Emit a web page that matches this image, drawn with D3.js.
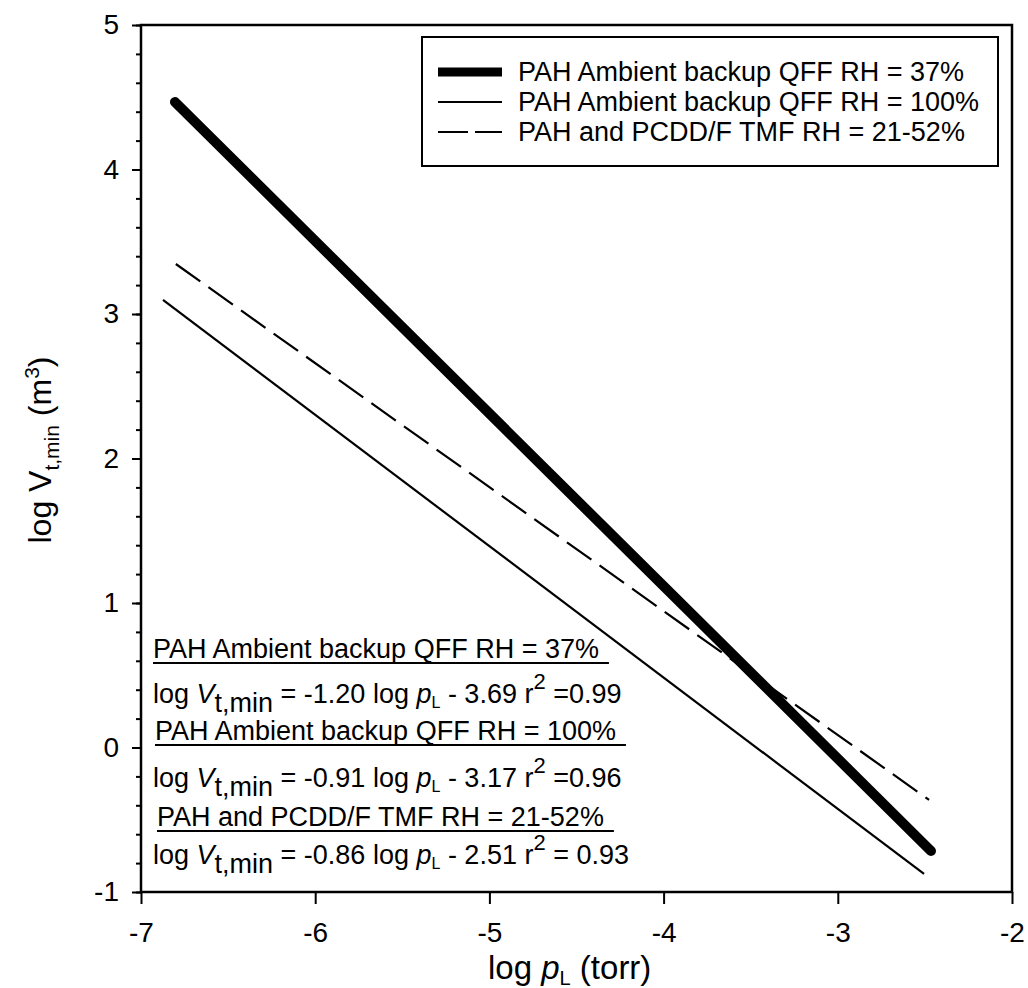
<!DOCTYPE html>
<html>
<head>
<meta charset="utf-8">
<script src="https://cdn.jsdelivr.net/npm/d3@7"></script>
<style>
  body { margin: 0; background: #fff; }
  text { font-family: "Liberation Sans", Arial, Helvetica, sans-serif; fill: #000; }
</style>
</head>
<body>
<script>
// Regression lines: [log pL, log Vt,min] end points
var qff37 = [[-6.805, 4.467], [-2.465, -0.716]];
var qff100 = [[-6.874, 3.097], [-2.505, -0.875]];
var tmf = [[-6.80, 3.346], [-2.476, -0.363]];

var legendLabels = ["PAH Ambient backup QFF RH = 37%", "PAH Ambient backup QFF RH = 100%", "PAH and PCDD/F TMF RH = 21-52%"];
var eqTitles = legendLabels;
var eqSlopes = ["-1.20", "-0.91", "-0.86"];
var eqIntercepts = ["3.69", "3.17", "2.51"];
var eqR2 = ["=0.99", "=0.96", "= 0.93"];

var xTicks = [-7, -6, -5, -4, -3, -2];
var yTicks = [-1, 0, 1, 2, 3, 4, 5];
var yMinor = d3.range(-1, 5.001, 0.2);

var svgWidth = 1028, svgHeight = 988;
var margin = { top: 25, right: 16, bottom: 96, left: 141 };
var width = svgWidth - margin.left - margin.right;
var height = svgHeight - margin.top - margin.bottom;

var svg = d3.select("body").append("svg")
  .attr("width", svgWidth)
  .attr("height", svgHeight);

var chartGroup = svg.append("g")
  .attr("transform", `translate(${margin.left}, ${margin.top})`);

var x = d3.scaleLinear().domain([-7, -2]).range([0, width]);
var y = d3.scaleLinear().domain([-1, 5]).range([height, 0]);

// plain hyphen instead of unicode minus, as in the figure
var fmt = d => String(d);

// minor y ticks
chartGroup.append("g")
  .call(d3.axisLeft(y).tickValues(yMinor).tickSize(5).tickFormat(""))
  .call(g => g.select(".domain").remove())
  .selectAll("line").attr("stroke-width", 2);

// major y ticks
var yAxis = chartGroup.append("g")
  .call(d3.axisLeft(y).tickValues(yTicks).tickSize(9).tickPadding(13).tickFormat(fmt))
  .call(g => g.select(".domain").remove());
yAxis.selectAll("line").attr("stroke-width", 2);
yAxis.selectAll("text").style("font-size", "28px").style("font-family", null);

// x ticks
var xAxis = chartGroup.append("g")
  .attr("transform", `translate(0,${height})`)
  .call(d3.axisBottom(x).tickValues(xTicks).tickSize(12).tickPadding(18).tickFormat(fmt))
  .call(g => g.select(".domain").remove());
xAxis.selectAll("line").attr("stroke-width", 2);
xAxis.selectAll("text").style("font-size", "28px").style("font-family", null);

// frame
chartGroup.append("rect")
  .attr("width", width)
  .attr("height", height)
  .attr("fill", "none")
  .attr("stroke", "#000")
  .attr("stroke-width", 2.5);

var line = d3.line().x(d => x(d[0])).y(d => y(d[1]));

chartGroup.append("path").datum(qff100)
  .attr("d", line).attr("fill", "none")
  .attr("stroke", "#000").attr("stroke-width", 2.2);

chartGroup.append("path").datum(tmf)
  .attr("d", line).attr("fill", "none")
  .attr("stroke", "#000").attr("stroke-width", 2.2)
  .attr("stroke-dasharray", "30,10");

chartGroup.append("path").datum(qff37)
  .attr("d", line).attr("fill", "none")
  .attr("stroke", "#000").attr("stroke-width", 10)
  .attr("stroke-linecap", "round");

// legend
var legend = svg.append("g");
legend.append("rect")
  .attr("x", 422).attr("y", 37)
  .attr("width", 576).attr("height", 129)
  .attr("fill", "#fff").attr("stroke", "#000").attr("stroke-width", 2);

var legendStyles = [
  { w: 9, dash: null },
  { w: 2.2, dash: null },
  { w: 2.2, dash: "30,7" }
];
var legendY = [72, 102, 132];

legendLabels.forEach(function(label, i) {
  legend.append("line")
    .attr("x1", 438).attr("x2", 502)
    .attr("y1", legendY[i]).attr("y2", legendY[i])
    .attr("stroke", "#000")
    .attr("stroke-width", legendStyles[i].w)
    .attr("stroke-dasharray", legendStyles[i].dash);
  legend.append("text")
    .attr("x", 518).attr("y", legendY[i] + 9)
    .style("font-size", "27px")
    .text(label);
});

// equations
var eqX = 153;
var titleY = [658, 740, 826];
var eqY = [703, 787, 864];
var eqGroup = svg.append("g");

eqTitles.forEach(function(t, i) {
  var tt = eqGroup.append("text")
    .attr("x", eqX + i * 2).attr("y", titleY[i])
    .style("font-size", "27px")
    .text(t);
  var len = tt.node().getComputedTextLength();
  eqGroup.append("line")
    .attr("x1", eqX + i * 2).attr("x2", eqX + i * 2 + len + 10)
    .attr("y1", titleY[i] + 5).attr("y2", titleY[i] + 5)
    .attr("stroke", "#000").attr("stroke-width", 2);

  var eq = eqGroup.append("text")
    .attr("x", eqX).attr("y", eqY[i])
    .style("font-size", "27px");
  eq.append("tspan").text("log ");
  eq.append("tspan").style("font-style", "italic").text("V");
  eq.append("tspan").attr("dy", 9).text("t,min");
  eq.append("tspan").attr("dy", -9).text(" = " + eqSlopes[i] + " log ");
  eq.append("tspan").style("font-style", "italic").text("p");
  eq.append("tspan").attr("dy", 5).style("font-size", "16px").text("L");
  eq.append("tspan").attr("dy", -5).text(" - " + eqIntercepts[i] + " r");
  eq.append("tspan").attr("dy", -14).style("font-size", "22px").text("2");
  eq.append("tspan").attr("dy", 14).text(" " + eqR2[i]);
});

// axis titles
var xt = svg.append("text")
  .attr("x", 488).attr("y", 979)
  .style("font-size", "33px");
xt.append("tspan").text("log ");
xt.append("tspan").style("font-style", "italic").text("p");
xt.append("tspan").attr("dy", 6).style("font-size", "20px").text("L");
xt.append("tspan").attr("dy", -6).text(" (torr)");

var yt = svg.append("text")
  .attr("transform", "translate(51,450) rotate(-90)")
  .attr("text-anchor", "middle")
  .style("font-size", "32px");
yt.append("tspan").text("log V");
yt.append("tspan").attr("dy", 8).style("font-size", "21px").text("t,min");
yt.append("tspan").attr("dy", -8).text(" (m");
yt.append("tspan").attr("dy", -12).style("font-size", "21px").text("3");
yt.append("tspan").attr("dy", 12).text(")");
</script>
</body>
</html>
